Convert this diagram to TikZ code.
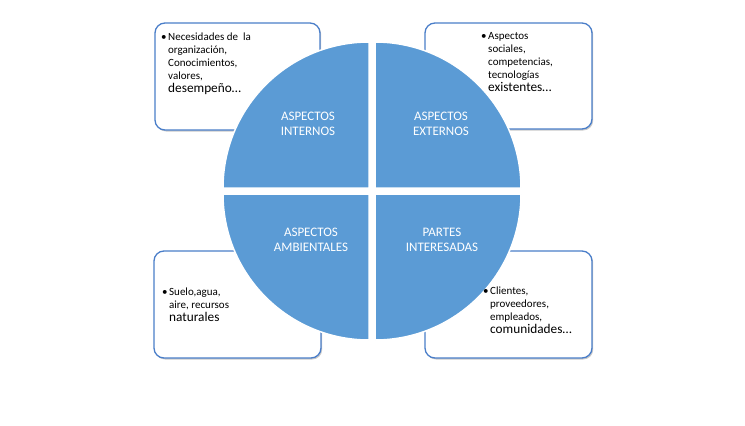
\documentclass[tikz,border=0pt]{standalone}
\usepackage{fontspec}
\setmainfont{Carlito}
\usetikzlibrary{shadows}
\definecolor{quad}{HTML}{5B9BD5}
\definecolor{boxline}{HTML}{4A7EC9}
\begin{document}
\begin{tikzpicture}[x=1pt,y=-1pt,
  infobox/.style={draw=boxline, line width=1.3pt, fill=white, rounded corners=10pt,
    drop shadow={shadow xshift=1.2pt, shadow yshift=-1.5pt, opacity=0.35, fill=black!60}},
  boxtext/.style={anchor=base west, align=left, inner sep=0pt,
    font=\fontsize{11}{13}\selectfont, text=black},
  quadrant/.style={fill=quad, draw=white, line width=1.5pt},
  quadlabel/.style={text=white, align=center, inner sep=0pt, font=\fontsize{13}{15}\selectfont}
]
\useasboundingbox (0,0) rectangle (745,426);
\fill[white] (0,0) rectangle (745,426);

% boxes
\node[infobox, minimum width=165pt, minimum height=107pt] (b1) at (237.5,76.5) {};
\node[infobox, minimum width=167pt, minimum height=106pt] (b2) at (508.5,76) {};
\node[infobox, minimum width=167pt, minimum height=107pt] (b3) at (237.5,304.5) {};
\node[infobox, minimum width=167pt, minimum height=107pt] (b4) at (508.5,304.5) {};

% quadrants
\path[quadrant] (369,188) -- ++(-146,0) arc[start angle=180, end angle=270, radius=146] -- cycle;
\path[quadrant] (375,188) -- ++(0,-146) arc[start angle=270, end angle=360, radius=146] -- cycle;
\path[quadrant] (375,194) -- ++(146,0) arc[start angle=0, end angle=90, radius=146] -- cycle;
\path[quadrant] (369,194) -- ++(0,146) arc[start angle=90, end angle=180, radius=146] -- cycle;

% quadrant labels
\node[quadlabel] (q1) at (308,123.5) {ASPECTOS\\INTERNOS};
\node[quadlabel] (q2) at (441,123.5) {ASPECTOS\\EXTERNOS};
\node[quadlabel] (q3) at (311,239.5) {ASPECTOS\\AMBIENTALES};
\node[quadlabel] (q4) at (442,239.5) {PARTES\\INTERESADAS};

% box texts (anchored at the baseline of the last line)
\node[boxtext] (t1) at (168,92) {\llap{\textbullet\hspace{1.5pt}}Necesidades de~ la\\organización,\\Conocimientos,\\valores,\\{\fontsize{13.3}{13}\selectfont desempeño…}};
\node[boxtext] (t2) at (488,91) {\llap{\textbullet\hspace{1.5pt}}Aspectos\\sociales,\\competencias,\\tecnologías\\{\fontsize{13.3}{13}\selectfont existentes…}};
\node[boxtext] (t3) at (169,321) {\llap{\textbullet\hspace{1.5pt}}Suelo,agua,\\aire, recursos\\{\fontsize{13.3}{12}\selectfont naturales}};
\node[boxtext] (t4) at (490,333) {\llap{\textbullet\hspace{1.5pt}}Clientes,\\proveedores,\\empleados,\\{\fontsize{13.3}{13}\selectfont comunidades…}};
\end{tikzpicture}
\end{document}
